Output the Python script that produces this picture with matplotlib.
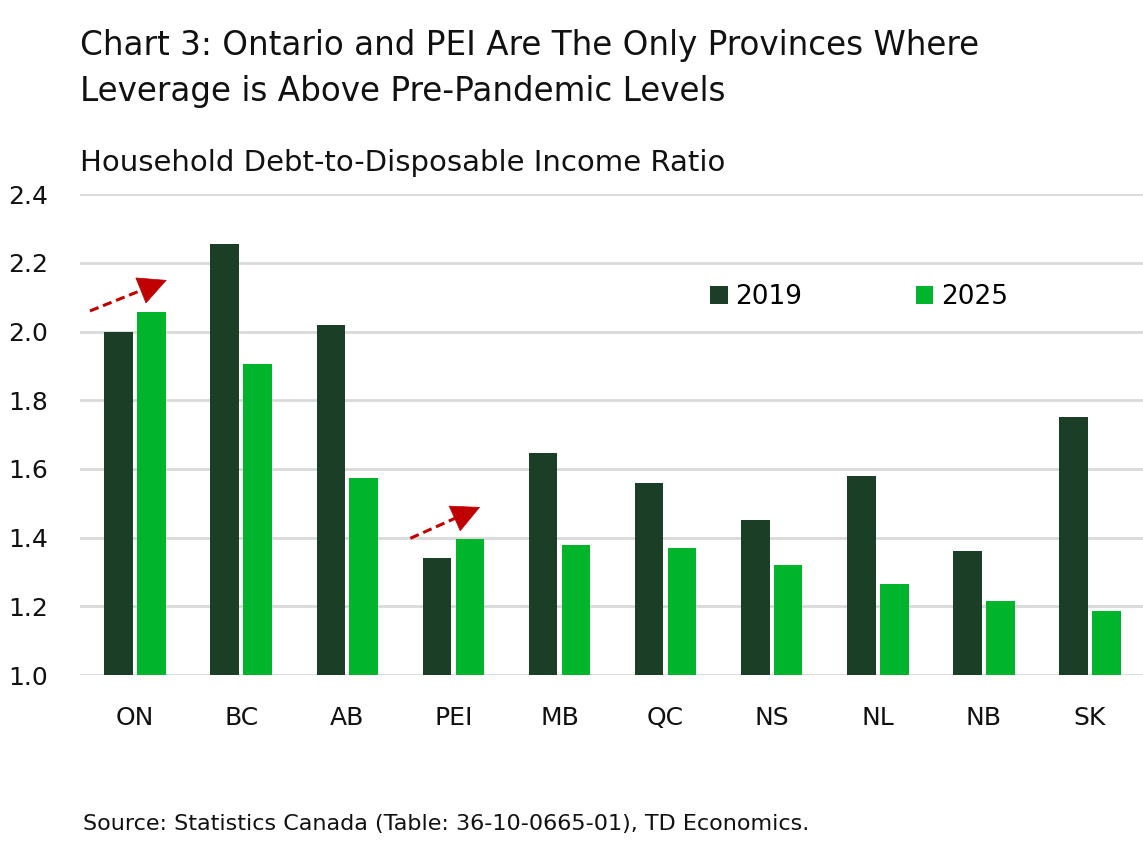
import matplotlib
matplotlib.use("Agg")
import matplotlib.pyplot as plt
import numpy as np

provinces = ["ON", "BC", "AB", "PEI", "MB", "QC", "NS", "NL", "NB", "SK"]
ratio_2019 = [2.00, 2.255, 2.02, 1.34, 1.645, 1.56, 1.45, 1.58, 1.36, 1.75]
ratio_2025 = [2.057, 1.905, 1.575, 1.395, 1.38, 1.37, 1.32, 1.265, 1.215, 1.185]
yticks = [1.0, 1.2, 1.4, 1.6, 1.8, 2.0, 2.2, 2.4]

dark = "#1A3E26"
bright = "#00B52C"
red = "#C00000"
font = "DejaVu Sans"

plt.rcParams["font.family"] = [font]

fig = plt.figure(figsize=(11.43, 8.48), dpi=100)
ax = fig.add_axes([0.07, 0.204, 0.93, 0.567])

x = np.arange(len(provinces))
w = 0.27
gap = 0.02
ax.bar(x - w / 2 - gap, np.array(ratio_2019) - 1.0, bottom=1.0, width=w, color=dark, label="2019", zorder=3)
ax.bar(x + w / 2 + gap, np.array(ratio_2025) - 1.0, bottom=1.0, width=w, color=bright, label="2025", zorder=3)

ax.set_ylim(1.0, 2.4)
ax.set_xlim(-0.52, 9.5)
ax.set_yticks(yticks)
ax.set_yticklabels([f"{v:.1f}" for v in yticks])
ax.set_xticks(x)
ax.set_xticklabels(provinces)
ax.yaxis.grid(True, color="#D9D9D9", linewidth=2.0, zorder=0)
ax.set_axisbelow(True)
for s in ax.spines.values():
    s.set_visible(False)
ax.tick_params(axis="both", length=0, labelsize=18, colors="#111111")
ax.tick_params(axis="y", pad=23)
ax.tick_params(axis="x", pad=22)

# arrows: dashed shaft + solid head
arrows = [((-0.426, 2.06), (0.298, 2.15)), ((2.594, 1.398), (3.252, 1.489))]
for (x0, y0), (x1, y1) in arrows:
    xm = x0 + 0.72 * (x1 - x0)
    ym = y0 + 0.72 * (y1 - y0)
    ax.plot([x0, xm], [y0, ym], color=red, linewidth=2.2, linestyle=(0, (3.0, 1.6)),
            zorder=5, solid_capstyle="butt", dash_capstyle="butt")
    ax.annotate("", xy=(x1, y1), xytext=(xm, ym),
                arrowprops=dict(arrowstyle="-|>,head_length=1.95,head_width=0.97", color=red,
                                linewidth=0.5, shrinkA=0, shrinkB=0, mutation_scale=10),
                zorder=6)

leg = ax.legend(loc="center left", bbox_to_anchor=(0.593, 0.786), ncol=2, frameon=False,
                fontsize=19, handlelength=0.65, handleheight=0.65, handletextpad=0.3,
                columnspacing=4.3, borderpad=0, borderaxespad=0)

fig.text(80 / 1143, 1 - 45 / 848, "Chart 3: Ontario and PEI Are The Only Provinces Where",
         fontsize=23.5, va="center", ha="left", color="#111111")
fig.text(80 / 1143, 1 - 92 / 848, "Leverage is Above Pre-Pandemic Levels",
         fontsize=23.5, va="center", ha="left", color="#111111")
fig.text(80 / 1143, 1 - 163 / 848, "Household Debt-to-Disposable Income Ratio",
         fontsize=21, va="center", ha="left", color="#111111")
fig.text(83 / 1143, 1 - 824 / 848, "Source: Statistics Canada (Table: 36-10-0665-01), TD Economics.",
         fontsize=16, va="center", ha="left", color="#111111")

fig.savefig("out.png", dpi=100)
